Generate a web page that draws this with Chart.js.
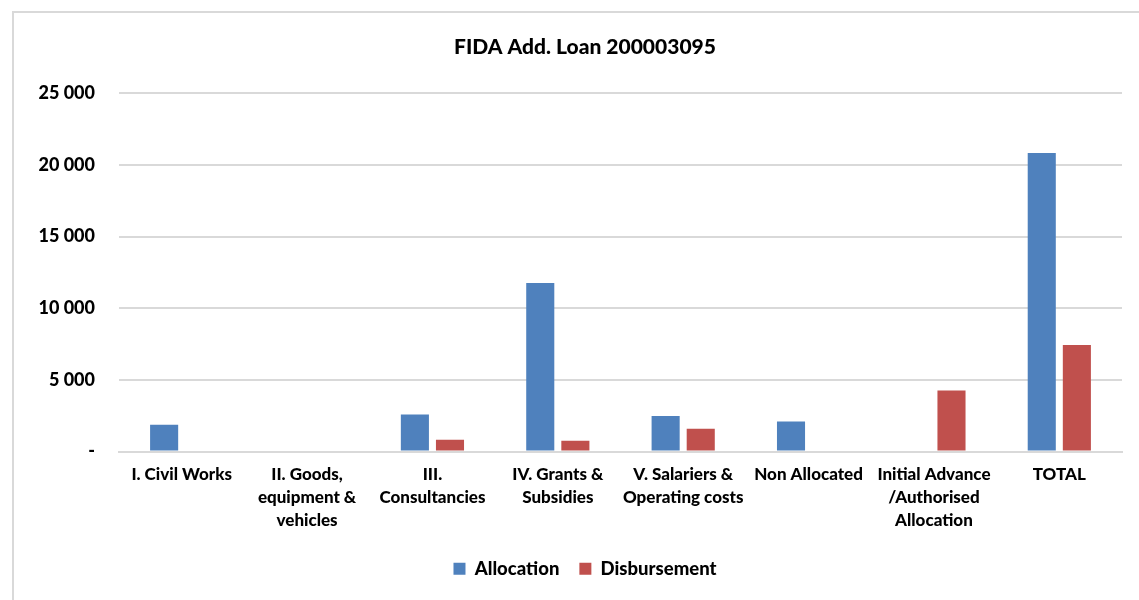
<!DOCTYPE html>
<html>
<head>
<meta charset="utf-8">
<script src="https://cdn.jsdelivr.net/npm/chart.js@4/dist/chart.umd.min.js"></script>
<style>
  html, body { margin: 0; padding: 0; background: #fff; }
  #wrap { position: relative; width: 1139px; height: 600px; overflow: hidden; }
  #frame { position: absolute; left: 12px; top: 11px; width: 1200px; height: 700px;
           border-left: 2px solid #d9d9d9; border-top: 2px solid #d9d9d9; box-sizing: border-box; }
  canvas { position: absolute; left: 0; top: 0; }
</style>
</head>
<body>
<div id="wrap">
  <div id="frame"></div>
  <canvas id="c" width="1139" height="600"></canvas>
</div>
<script>
const categories = [
  "I. Civil Works",
  ["II. Goods,", "equipment &", "vehicles"],
  ["III.", "Consultancies"],
  ["IV. Grants &", "Subsidies"],
  ["V. Salariers &", "Operating costs"],
  "Non Allocated",
  ["Initial Advance", "/Authorised", "Allocation"],
  "TOTAL"
];
const allocation   = [1870, 0, 2575, 11760, 2475, 2085, 0, 20830];
const disbursement = [0, 0, 820, 750, 1590, 0, 4255, 7430];
const yTicks = [0, 5000, 10000, 15000, 20000, 25000];
const titleText = "FIDA Add. Loan 200003095";

const FONT = "Lato, 'Open Sans', sans-serif";

function fmt(v) {
  if (v === 0) return "-";
  return String(v).replace(/\B(?=(\d{3})+(?!\d))/g, " ");
}

// Centre title and legend on the outer chart frame (as in the original)
const recentre = {
  id: "recentre",
  beforeDraw(chart) {
    for (const box of [chart.titleBlock, chart.legend]) {
      if (!box) continue;
      box.left = 48; box.right = 1122; box.width = 1122 - 48;
    }
  }
};

new Chart(document.getElementById("c"), {
  type: "bar",
  data: {
    labels: categories,
    datasets: [
      { label: "Allocation", data: allocation, backgroundColor: "#4F81BD",
        categoryPercentage: 0.56, barPercentage: 0.8 },
      { label: "Disbursement", data: disbursement, backgroundColor: "#C0504D",
        categoryPercentage: 0.56, barPercentage: 0.8 }
    ]
  },
  plugins: [recentre],
  options: {
    responsive: false,
    animation: false,
    layout: { padding: { left: 0, right: 17, top: 0, bottom: 12 } },
    plugins: {
      title: {
        display: true, text: titleText, color: "#000",
        font: { family: FONT, size: 21, weight: "900" },
        padding: { top: 35, bottom: 33 }
      },
      legend: {
        position: "bottom",
        labels: {
          color: "#000",
          font: { family: FONT, size: 18.5, weight: "900" },
          boxWidth: 12, boxHeight: 12, padding: 20
        }
      },
      tooltip: { enabled: false }
    },
    scales: {
      x: {
        grid: { display: false, drawTicks: false },
        border: { display: true, color: "#d9d9d9", width: 2 },
        ticks: {
          color: "#000", maxRotation: 0, autoSkip: false, padding: 12,
          font: { family: FONT, size: 17, weight: "900", lineHeight: 1.35 }
        },
        afterFit: (s) => { s.height = 88; }
      },
      y: {
        min: 0, max: 25000,
        afterBuildTicks: (s) => { s.ticks = yTicks.map(v => ({ value: v })); },
        grid: { color: "#d9d9d9", lineWidth: 2, drawTicks: false },
        border: { display: false },
        ticks: {
          color: "#000", padding: 24,
          font: { family: FONT, size: 18, weight: "900" },
          callback: (v) => fmt(v)
        },
        afterFit: (s) => { s.width = 119; }
      }
    }
  }
});
</script>
</body>
</html>
